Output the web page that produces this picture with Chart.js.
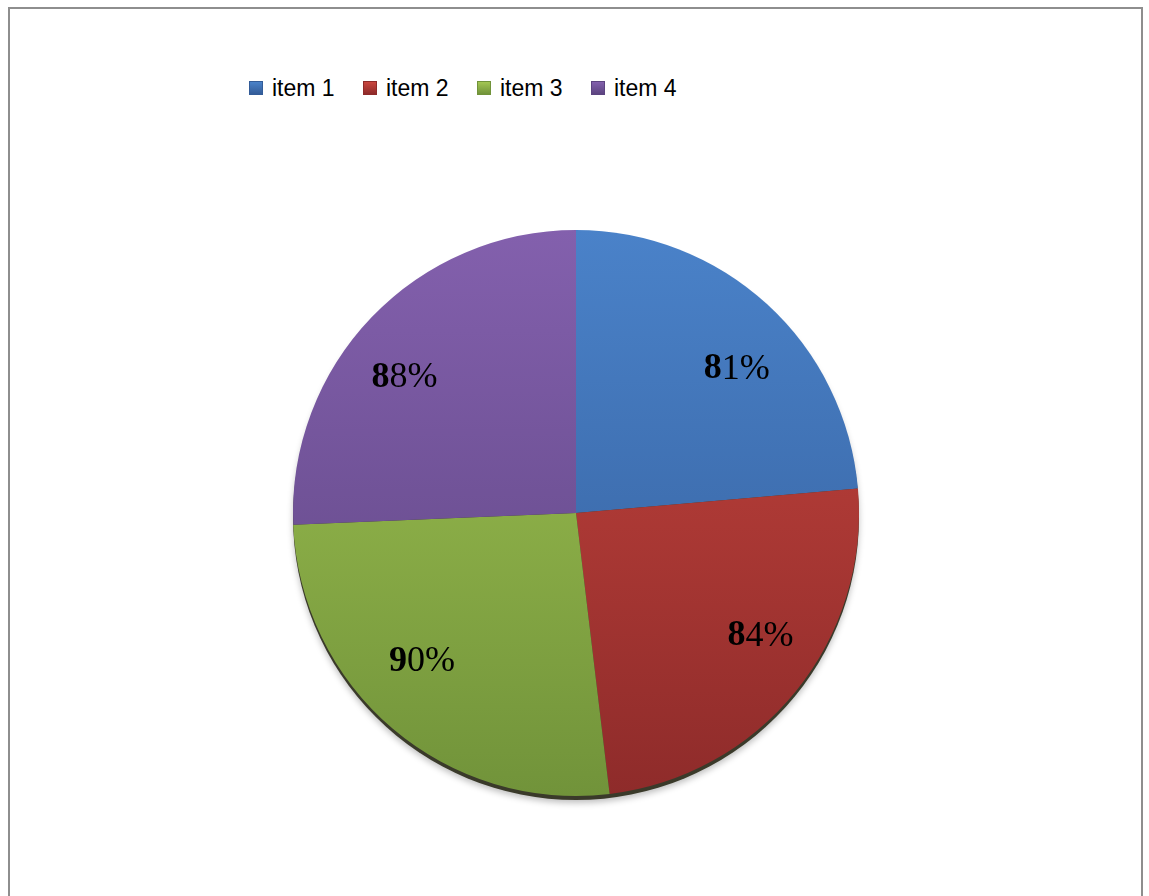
<!DOCTYPE html>
<html>
<head>
<meta charset="utf-8">
<script src="https://cdn.jsdelivr.net/npm/chart.js@4/dist/chart.umd.min.js"></script>
<style>
  html, body { margin: 0; padding: 0; background: #fff; }
  #wrap { position: relative; width: 1149px; height: 896px; overflow: hidden; }
  #frame { position: absolute; left: 8px; top: 7px; width: 1135px; height: 920px;
           border: 2px solid #8e8e8e; box-sizing: border-box; }
  #legend { position: absolute; left: 249px; top: 74px; display: flex;
            font-family: "Liberation Sans", Arial, sans-serif; font-size: 23px; color: #000; }
  .item { display: flex; align-items: center; width: 114px; height: 28px; }
  .box { width: 14px; height: 14px; margin-right: 9px; box-sizing: border-box; }
  canvas { position: absolute; left: 0; top: 0; }
</style>
</head>
<body>
<div id="wrap">
  <div id="frame"></div>
  <div id="legend"></div>
  <canvas id="canvas" width="1149" height="896"></canvas>
</div>
<script>
var categories = ['item 1', 'item 2', 'item 3', 'item 4'];
var values = [81, 84, 90, 88];
var topColors = ['#4a82c9', '#c9463f', '#a3c653', '#8360ad'];
var bottomColors = ['#335c98', '#8e2b2a', '#71933a', '#5c4480'];

// legend in html
var legend = document.getElementById('legend');
categories.forEach(function(name, i) {
  var el = document.createElement('div');
  el.className = 'item';
  var box = document.createElement('span');
  box.className = 'box';
  box.style.background = 'linear-gradient(' + topColors[i] + ',' + bottomColors[i] + ')';
  box.style.border = '1px solid ' + bottomColors[i];
  el.appendChild(box);
  el.appendChild(document.createTextNode(name));
  legend.appendChild(el);
});

function sliceFill(context) {
  var chart = context.chart;
  var area = chart.chartArea;
  if (!area) return topColors[context.dataIndex];
  var g = chart.ctx.createLinearGradient(0, area.top, 0, area.bottom);
  g.addColorStop(0, topColors[context.dataIndex]);
  g.addColorStop(1, bottomColors[context.dataIndex]);
  return g;
}

// dark rim under the pie, a bit like the 3d edge
var rimPlugin = {
  id: 'rim',
  beforeDatasetsDraw: function(chart) {
    var arc = chart.getDatasetMeta(0).data[0];
    var ctx = chart.ctx;
    ctx.save();
    ctx.shadowColor = 'rgba(0,0,0,0.25)';
    ctx.shadowBlur = 6;
    ctx.shadowOffsetY = 3;
    ctx.fillStyle = '#3a3a2a';
    ctx.beginPath();
    ctx.arc(arc.x, arc.y + 4, arc.outerRadius, 0, Math.PI * 2);
    ctx.fill();
    ctx.restore();
  }
};

// value labels: first digit bold, rest normal, serif
var labelPlugin = {
  id: 'valueLabels',
  afterDatasetsDraw: function(chart) {
    var ctx = chart.ctx;
    var arcs = chart.getDatasetMeta(0).data;
    ctx.save();
    ctx.fillStyle = '#000';
    ctx.textBaseline = 'middle';
    arcs.forEach(function(arc, i) {
      var mid = (arc.startAngle + arc.endAngle) / 2;
      var x = arc.x + Math.cos(mid) * arc.outerRadius * 0.84;
      var y = arc.y + Math.sin(mid) * arc.outerRadius * 0.69;
      var txt = values[i] + '%';
      var head = txt.charAt(0), tail = txt.slice(1);
      var bold = 'bold 36px "Liberation Serif", "Times New Roman", serif';
      var norm = '36px "Liberation Serif", "Times New Roman", serif';
      ctx.font = bold;
      var w1 = ctx.measureText(head).width;
      ctx.font = norm;
      var w2 = ctx.measureText(tail).width;
      var sx = x - (w1 + w2) / 2;
      ctx.textAlign = 'left';
      ctx.font = bold;
      ctx.fillText(head, sx, y);
      ctx.font = norm;
      ctx.fillText(tail, sx + w1, y);
    });
    ctx.restore();
  }
};

var ctx = document.getElementById('canvas').getContext('2d');
window.my_chart = new Chart(ctx, {
  type: 'pie',
  data: {
    labels: categories,
    datasets: [{
      data: values,
      backgroundColor: sliceFill,
      borderWidth: 0
    }]
  },
  options: {
    responsive: false,
    animation: false,
    layout: { padding: { left: 293, right: 290, top: 230, bottom: 100 } },
    plugins: {
      legend: { display: false },
      tooltip: { enabled: false }
    }
  },
  plugins: [rimPlugin, labelPlugin]
});
</script>
</body>
</html>
